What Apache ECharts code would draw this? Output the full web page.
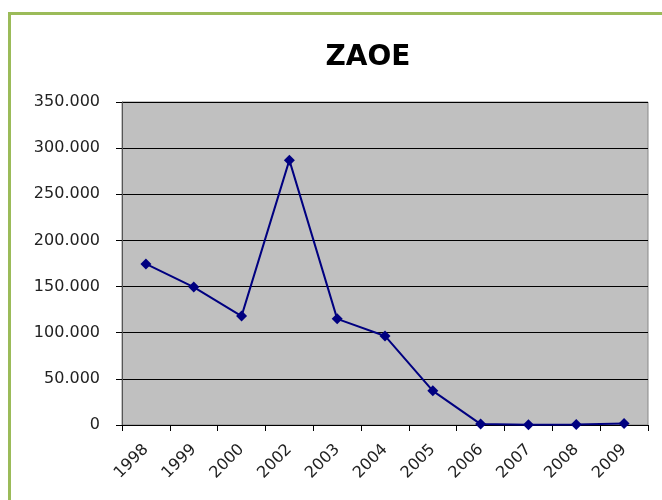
<!DOCTYPE html>
<html><head><meta charset="utf-8">
<script src="https://cdn.jsdelivr.net/npm/echarts@6/dist/echarts.min.js"></script>
<style>html,body{margin:0;padding:0;background:#fff}#c{width:662px;height:500px}</style>
</head><body><div id="c"></div>
<script>
var categories = ['1998','1999','2000','2002','2003','2004','2005','2006','2007','2008','2009'];
var values = [174500, 149500, 118000, 287000, 115000, 96500, 37000, 1000, 300, 500, 1500];
var yTicks = {min: 0, max: 350000, interval: 50000};
var titleText = 'ZAOE';

function fmt(v){ return String(v).replace(/\B(?=(\d{3})+(?!\d))/g, '.'); }

var chart = echarts.init(document.getElementById('c'), null, {renderer:'canvas'});
chart.setOption({
  animation: false,
  backgroundColor: '#fff',
  graphic: [{type:'rect', z:-10, shape:{x:9.5,y:13.5,width:700,height:600}, style:{fill:'#fff', stroke:'#9bbb59', lineWidth:3}}],
  title: {text: titleText, left: 363, top: 39, textAlign: 'center',
    textStyle: {fontFamily: 'DejaVu Sans', fontWeight: 'bold', fontSize: 28, color: '#000'}},
  grid: {left: 122, right: 14, top: 102, bottom: 75, show: true, backgroundColor: '#c0c0c0', borderColor: '#888', borderWidth: 1},
  xAxis: {type: 'category', data: categories, boundaryGap: true,
    axisLine: {lineStyle: {color: '#000'}},
    axisTick: {show: true, length: 6, alignWithLabel: false, lineStyle: {color: '#000'}},
    axisLabel: {rotate: 45, fontFamily: 'DejaVu Sans', fontSize: 16, color: '#222', margin: 22, interval: 0}},
  yAxis: {type: 'value', min: yTicks.min, max: yTicks.max, interval: yTicks.interval,
    axisLine: {show: true, lineStyle: {color: '#555'}},
    axisTick: {show: true, length: 6, lineStyle: {color: '#000'}},
    splitLine: {show: true, lineStyle: {color: '#000', width: 1}},
    axisLabel: {formatter: fmt, fontFamily: 'DejaVu Sans', fontSize: 16, color: '#222', margin: 22}},
  series: [{type: 'line', data: values, symbol: 'diamond', symbolSize: 11,
    lineStyle: {color: '#000080', width: 2}, itemStyle: {color: '#000080'}}]
});
</script></body></html>
